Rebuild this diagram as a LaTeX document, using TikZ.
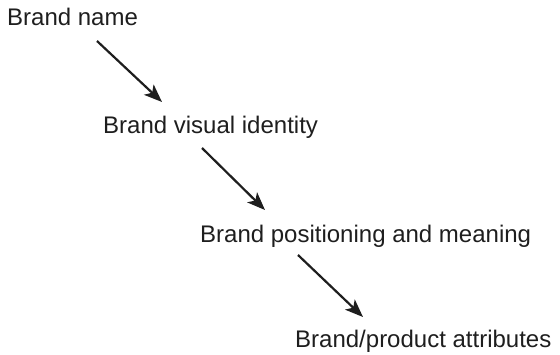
\documentclass[tikz,border=0pt]{standalone}
\usepackage{fontspec}
\setmainfont{Liberation Sans}
\usetikzlibrary{arrows.meta}
\definecolor{ink}{HTML}{1E1E1E}
\begin{document}
\begin{tikzpicture}[x=1pt,y=-1pt,
  lbl/.style={anchor=base west,inner sep=0pt,text=ink,font=\fontsize{24}{28}\selectfont},
  arr/.style={draw=ink,line width=2.2pt,-{Stealth[length=18pt,width=14pt,inset=4.5pt]}}]
\useasboundingbox (0,0) rectangle (560,354);
\node[lbl] (n1) at (7,25) {Brand name};
\node[lbl] (n2) at (103,133) {Brand visual identity};
\node[lbl] (n3) at (200,242) {Brand positioning and meaning};
\node[lbl] (n4) at (295,347) {Brand/product attributes};
\coordinate (s1) at (97,41);
\coordinate (t1) at (162,102);
\coordinate (s2) at (202,148);
\coordinate (t2) at (265,210);
\coordinate (s3) at (298,255);
\coordinate (t3) at (363,317);
\draw[arr] (s1) -- (t1);
\draw[arr] (s2) -- (t2);
\draw[arr] (s3) -- (t3);
\end{tikzpicture}
\end{document}
